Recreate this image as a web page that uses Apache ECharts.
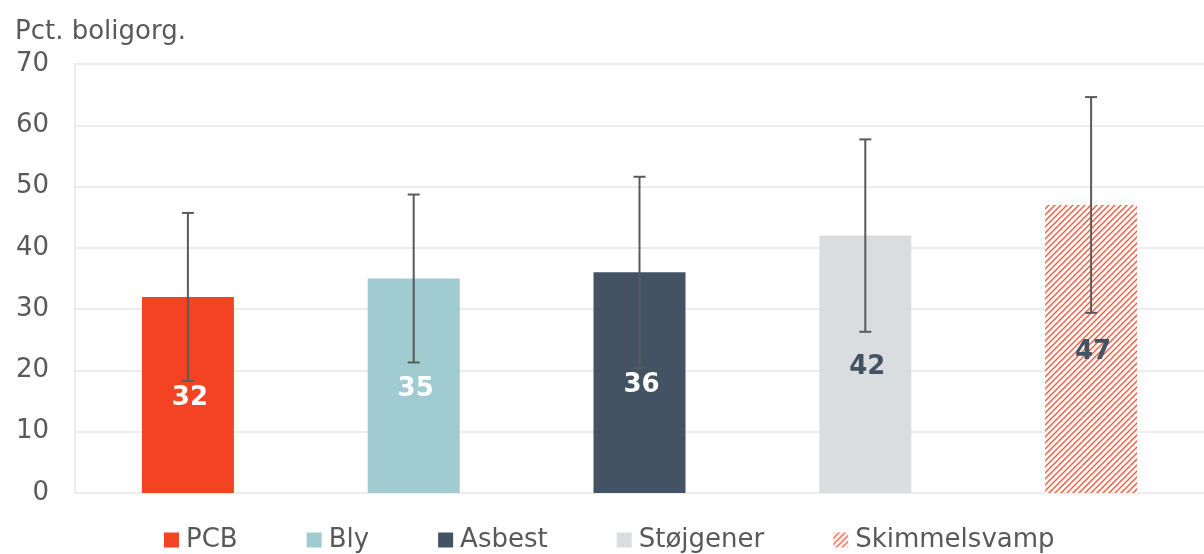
<!DOCTYPE html>
<html>
<head>
<meta charset="utf-8">
<script src="https://cdn.jsdelivr.net/npm/echarts@6/dist/echarts.min.js"></script>
<style>
  html, body { margin: 0; padding: 0; background: #fff; }
  #chart { width: 1204px; height: 554px; }
</style>
</head>
<body>
<div id="chart"></div>
<script>
const categories = ['PCB', 'Bly', 'Asbest', 'Støjgener', 'Skimmelsvamp'];
const values = [32, 35, 36, 42, 47];
const errLow = [18.3, 21.3, 20.4, 26.3, 29.4];
const errHigh = [45.7, 48.7, 51.6, 57.7, 64.6];
const yTicks = [0, 10, 20, 30, 40, 50, 60, 70];

const colors = ['#f44323', '#a0cbd0', '#435363', '#d9dde0', null];
const labelColors = ['#ffffff', '#ffffff', '#ffffff', '#435363', '#435363'];

// diagonal hatch for the last bar
function hatch() {
  const c = document.createElement('canvas');
  c.width = 6; c.height = 6;
  const ctx = c.getContext('2d');
  ctx.fillStyle = '#ffffff';
  ctx.fillRect(0, 0, 6, 6);
  ctx.strokeStyle = '#f65d42';
  ctx.lineWidth = 1.5;
  [0, 6, 12].forEach(function (k) {
    ctx.beginPath();
    ctx.moveTo(k - 7, 7);
    ctx.lineTo(k + 1, -1);
    ctx.stroke();
  });
  return c;
}
colors[4] = { image: hatch(), repeat: 'repeat' };

const chart = echarts.init(document.getElementById('chart'));
const font = 'DejaVu Sans';

const barSeries = categories.map((name, i) => ({
  name: name,
  type: 'bar',
  barWidth: 92,
  barGap: '-100%',
  data: categories.map((_, j) => (j === i ? values[j] : '-')),
  itemStyle: { color: colors[i] },
  label: {
    show: true,
    position: 'inside',
    color: labelColors[i],
    fontFamily: font,
    fontSize: 26,
    fontWeight: 'bold',
    offset: [2, 3]
  },
  z: 2
}));

const errSeries = {
  type: 'custom',
  name: 'err',
  data: categories.map((_, i) => [i, errLow[i], errHigh[i]]),
  encode: { x: 0, y: [1, 2] },
  z: 5,
  renderItem: function (params, api) {
    const x = api.value(0);
    const lo = api.coord([x, api.value(1)]);
    const hi = api.coord([x, api.value(2)]);
    const w = 6;
    const style = { stroke: '#5a5a5a', lineWidth: 2 };
    return {
      type: 'group',
      children: [
        { type: 'line', shape: { x1: hi[0], y1: hi[1], x2: lo[0], y2: lo[1] }, style: style },
        { type: 'line', shape: { x1: hi[0] - w, y1: hi[1], x2: hi[0] + w, y2: hi[1] }, style: style },
        { type: 'line', shape: { x1: lo[0] - w, y1: lo[1], x2: lo[0] + w, y2: lo[1] }, style: style }
      ]
    };
  }
};

chart.setOption({
  backgroundColor: '#ffffff',
  animation: false,
  title: {
    text: 'Pct. boligorg.',
    left: 10,
    top: 14,
    textStyle: { color: '#595959', fontFamily: font, fontSize: 26, fontWeight: 'normal' }
  },
  legend: {
    data: categories,
    left: 159,
    top: 522,
    icon: 'rect',
    itemWidth: 15,
    itemHeight: 15,
    itemGap: 69,
    textStyle: { color: '#595959', fontFamily: font, fontSize: 26, padding: [0, 0, 0, 2] }
  },
  grid: { left: 75, right: -11, top: 64, bottom: 61 },
  xAxis: {
    type: 'category',
    data: categories,
    axisLine: { show: true, lineStyle: { color: '#ededed', width: 2 } },
    axisTick: { show: false },
    axisLabel: { show: false }
  },
  yAxis: {
    type: 'value',
    min: yTicks[0],
    max: yTicks[yTicks.length - 1],
    interval: 10,
    axisLine: { show: true, lineStyle: { color: '#ededed', width: 2 } },
    axisTick: { show: false },
    axisLabel: { color: '#595959', fontFamily: font, fontSize: 26, margin: 26 },
    splitLine: { lineStyle: { color: '#ededed', width: 2 } }
  },
  series: barSeries.concat([errSeries])
});
</script>
</body>
</html>
